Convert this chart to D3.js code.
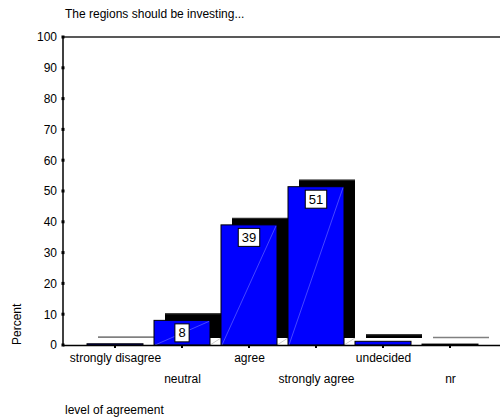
<!DOCTYPE html>
<html lang="en">
<head>
<meta charset="UTF-8">
<title>The regions should be investing...</title>
<script src="https://d3js.org/d3.v7.min.js"></script>
<style>
    body { margin: 0; background: #fff; }
    svg text { font-family: Arial, "Liberation Sans", sans-serif; fill: #000; }
    .tick-label { font-size: 12px; }
    .title { font-size: 12px; }
</style>
</head>
<body>
<svg width="500" height="419"></svg>
<script>
    // data
    const categories = ["strongly disagree", "neutral", "agree", "strongly agree", "undecided", "nr"];
    const percent = [0.4, 8, 39, 51.4, 1.2, 0.3];
    const yTicks = [0, 10, 20, 30, 40, 50, 60, 70, 80, 90, 100];

    const margin = {top: 37, left: 63, bottom: 345};
    const barW = 56, depthX = 11, depthY = -7;

    const svg = d3.select("svg");

    const x = d3.scalePoint()
        .domain(categories)
        .range([81.5, 483.5])
        .padding(0.5);

    const y = d3.scaleLinear()
        .domain([0, 100])
        .range([margin.bottom, margin.top]);

    const data = categories.map((c, i) => ({cat: c, val: percent[i], i: i}));

    // back faces (3d depth)
    const back = svg.append("g");
    back.selectAll("rect")
        .data(data)
        .enter().append("rect")
        .attr("x", d => x(d.cat) - barW / 2 + depthX)
        .attr("y", d => y(d.val) + depthY)
        .attr("width", barW)
        .attr("height", d => Math.max(y(0) - y(d.val), 0.5))
        .attr("fill", "#000");
    back.selectAll("line")
        .data(data)
        .enter().append("line")
        .attr("x1", d => x(d.cat) - barW / 2 + depthX)
        .attr("x2", d => x(d.cat) + barW / 2 + depthX)
        .attr("y1", d => y(d.val) + depthY + 0.5)
        .attr("y2", d => y(d.val) + depthY + 0.5)
        .attr("stroke", d => d.val < 1 ? "#808080" : "#333")
        .attr("stroke-width", d => d.val < 1 ? 1.5 : 1);

    // faint depth edges
    svg.append("g").selectAll("line")
        .data(data.filter(d => d.val > 5))
        .enter().append("line")
        .attr("x1", d => x(d.cat) + barW / 2)
        .attr("y1", y(0))
        .attr("x2", d => x(d.cat) + barW / 2 + depthX)
        .attr("y2", y(0) + depthY)
        .attr("stroke", "#999")
        .attr("stroke-width", 0.5);

    // front faces
    const front = svg.append("g");
    front.selectAll("rect")
        .data(data)
        .enter().append("rect")
        .attr("x", d => x(d.cat) - barW / 2)
        .attr("y", d => y(d.val))
        .attr("width", barW)
        .attr("height", d => y(0) - y(d.val))
        .attr("fill", "#0000ff")
        .attr("stroke", "#000")
        .attr("stroke-width", 1);
    front.selectAll("line")
        .data(data.filter(d => d.val > 5))
        .enter().append("line")
        .attr("x1", d => x(d.cat) - barW / 2 + 1)
        .attr("y1", y(0))
        .attr("x2", d => x(d.cat) + barW / 2 - 1)
        .attr("y2", d => y(d.val) + 1)
        .attr("stroke", "#8c8cff")
        .attr("stroke-width", 0.5);

    // value labels
    const lab = svg.append("g").selectAll("g")
        .data(data.filter(d => d.val > 5))
        .enter().append("g");
    lab.append("text")
        .attr("x", d => x(d.cat))
        .attr("y", d => y(d.val) + 17)
        .attr("text-anchor", "middle")
        .attr("font-size", 13)
        .text(d => Math.round(d.val));
    lab.each(function() {
        const g = d3.select(this);
        const b = g.select("text").node().getBBox();
        g.insert("rect", "text")
            .attr("x", b.x - 3.5)
            .attr("y", b.y - 1.5)
            .attr("width", b.width + 7)
            .attr("height", b.height + 3)
            .attr("fill", "#fff")
            .attr("stroke", "#000");
    });

    // frame
    svg.append("line")
        .attr("x1", margin.left).attr("x2", 500)
        .attr("y1", margin.top).attr("y2", margin.top)
        .attr("stroke", "#222").attr("stroke-width", 1.5);
    svg.append("line")
        .attr("x1", margin.left).attr("x2", 500)
        .attr("y1", y(0) + 0.5).attr("y2", y(0) + 0.5)
        .attr("stroke", "#000").attr("stroke-width", 1.5);
    svg.append("line")
        .attr("x1", margin.left).attr("x2", margin.left)
        .attr("y1", margin.top).attr("y2", y(0) + 1)
        .attr("stroke", "#000").attr("stroke-width", 1.5);

    // y axis
    const yAxis = svg.append("g").attr("transform", `translate(${margin.left},0)`)
        .call(d3.axisLeft(y).tickValues(yTicks).tickSize(0).tickPadding(6));
    yAxis.select(".domain").remove();
    yAxis.selectAll("text").attr("class", "tick-label").attr("font-family", null).attr("font-size", null);
    svg.append("g").selectAll("rect")
        .data(yTicks)
        .enter().append("rect")
        .attr("x", margin.left - 1.5)
        .attr("y", d => y(d) - 1.5)
        .attr("width", 3)
        .attr("height", 3)
        .attr("fill", "#000");

    // x axis
    const xAxis = svg.append("g").attr("transform", `translate(0,${y(0)})`)
        .call(d3.axisBottom(x).tickSize(0).tickPadding(0));
    xAxis.select(".domain").remove();
    xAxis.selectAll("text")
        .attr("class", "tick-label")
        .attr("font-family", null).attr("font-size", null)
        .attr("dy", null)
        .attr("y", (d, i) => i % 2 === 0 ? 17 : 38);
    svg.append("g").selectAll("rect")
        .data(categories)
        .enter().append("rect")
        .attr("x", d => x(d) - 1)
        .attr("y", y(0) + 1)
        .attr("width", 2)
        .attr("height", 2)
        .attr("fill", "#000");

    // titles
    svg.append("text")
        .attr("class", "title")
        .attr("x", 65).attr("y", 18)
        .text("The regions should be investing...");
    svg.append("text")
        .attr("class", "title")
        .attr("x", 65).attr("y", 414)
        .text("level of agreement");
    svg.append("text")
        .attr("class", "title")
        .attr("transform", `translate(21,${y(0)}) rotate(-90)`)
        .text("Percent");
</script>
</body>
</html>
